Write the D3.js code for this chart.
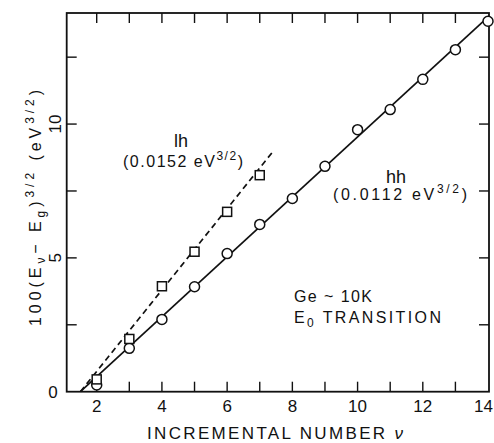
<!DOCTYPE html>
<html>
<head>
<meta charset="utf-8">
<script src="https://cdn.jsdelivr.net/npm/d3@7"></script>
<style>
  html, body { margin: 0; padding: 0; background: #fff; }
  svg text { font-family: "Liberation Sans", Arial, sans-serif; fill: #111; }
</style>
</head>
<body>
<svg id="chart" width="494" height="443"></svg>
<script>
// ---- data ----
const hhNu = [2, 3, 4, 5, 6, 7, 8, 9, 10, 11, 12, 13, 14];
const hhVal = [0.25, 1.62, 2.70, 3.92, 5.16, 6.25, 7.22, 8.42, 9.79, 10.54, 11.67, 12.78, 13.84];
const lhNu = [2, 3, 4, 5, 6, 7];
const lhVal = [0.46, 1.97, 3.94, 5.23, 6.72, 8.09];
// fit lines: x-intercept, slope (x100 eV^3/2 per step), last nu drawn
const fitNames = ["hh", "lh"];
const fitX0 = [1.5, 1.5];
const fitSlope = [1.12, 1.52];
const fitXEnd = [14.03, 7.42];
const xTicks = [2, 3, 4, 5, 6, 7, 8, 9, 10, 11, 12, 13];
const xTickLabels = [2, 4, 6, 8, 10, 12, 14];
const yTicks = [2.5, 5, 7.5, 10, 12.5];
const yTickLabels = [0, 5, 10];

const svg = d3.select("#chart");
const L = 66.7, R = 489, T = 13, B = 391.7;
const x = d3.scaleLinear().domain([1.08, 14.03]).range([L, R]);
const y = d3.scaleLinear().domain([0, 14.15]).range([B, T]);

const ink = "#111";

// frame
svg.append("rect").attr("x", L).attr("y", T).attr("width", R - L).attr("height", B - T)
  .attr("fill", "none").attr("stroke", ink).attr("stroke-width", 1.8);

// ticks (inward) on all four sides
const tk = 10;
const tickG = svg.append("g").attr("stroke", ink).attr("stroke-width", 1.4);
xTicks.forEach(v => {
  tickG.append("line").attr("x1", x(v)).attr("x2", x(v)).attr("y1", B).attr("y2", B - tk);
  tickG.append("line").attr("x1", x(v)).attr("x2", x(v)).attr("y1", T).attr("y2", T + tk);
});
yTicks.forEach(v => {
  tickG.append("line").attr("x1", L).attr("x2", L + tk).attr("y1", y(v)).attr("y2", y(v));
  tickG.append("line").attr("x1", R).attr("x2", R - tk).attr("y1", y(v)).attr("y2", y(v));
});

// x tick labels (last one kept inside the page edge)
const last = xTickLabels[xTickLabels.length - 1];
svg.append("g").selectAll("text").data(xTickLabels).join("text")
  .attr("x", d => d === last ? Math.min(x(d) + 9, 493) : x(d)).attr("y", 412)
  .attr("text-anchor", d => d === last ? "end" : "middle")
  .attr("font-size", 17).text(d => d);

// y tick labels (rotated)
svg.append("g").selectAll("text").data(yTickLabels).join("text")
  .attr("transform", d => `translate(${d === 0 ? 53 : 55},${y(d)}) rotate(${d === 0 ? 0 : -90})`)
  .attr("text-anchor", "middle").attr("dy", "0.36em")
  .attr("font-size", 17).text(d => d);

// axis titles
svg.append("text").attr("x", 275).attr("y", 439).attr("text-anchor", "middle")
  .attr("font-size", 17).attr("textLength", 256).attr("lengthAdjust", "spacing")
  .call(t => {
    t.append("tspan").text("INCREMENTAL NUMBER ");
    t.append("tspan").attr("font-style", "italic").text("ν");
  });

const yt = svg.append("text").attr("transform", "translate(41,208) rotate(-90)")
  .attr("text-anchor", "middle").attr("font-size", 16)
  .attr("textLength", 236).attr("lengthAdjust", "spacing");
yt.append("tspan").text("100(E");
yt.append("tspan").attr("font-size", 12).attr("dy", 4).text("ν");
yt.append("tspan").attr("dy", -4).text("− E");
yt.append("tspan").attr("font-size", 12).attr("dy", 4).text("g");
yt.append("tspan").attr("dy", -4).text(")");
yt.append("tspan").attr("font-size", 12).attr("dy", -7).text("3/2");
yt.append("tspan").attr("dy", 7).text(" (eV");
yt.append("tspan").attr("font-size", 12).attr("dy", -7).text("3/2");
yt.append("tspan").attr("dy", 7).text(")");

// fit lines
const line = d3.line().x(d => x(d[0])).y(d => y(d[1]));
fitNames.forEach((n, i) => {
  const pts = [[fitX0[i], 0], [fitXEnd[i], fitSlope[i] * (fitXEnd[i] - fitX0[i])]];
  svg.append("path").attr("d", line(pts)).attr("fill", "none")
    .attr("stroke", ink).attr("stroke-width", 1.7)
    .attr("stroke-dasharray", n === "lh" ? "6,4" : null);
});

// markers
svg.append("g").selectAll("circle").data(hhNu.map((v, i) => [v, hhVal[i]])).join("circle")
  .attr("cx", d => x(d[0])).attr("cy", d => y(d[1])).attr("r", 5)
  .attr("fill", "#fff").attr("stroke", ink).attr("stroke-width", 1.5);
const s = 9;
svg.append("g").selectAll("rect").data(lhNu.map((v, i) => [v, lhVal[i]])).join("rect")
  .attr("x", d => x(d[0]) - s / 2).attr("y", d => y(d[1]) - s / 2)
  .attr("width", s).attr("height", s)
  .attr("fill", "#fff").attr("stroke", ink).attr("stroke-width", 1.5);

// annotations
svg.append("text").attr("x", 181).attr("y", 147).attr("text-anchor", "middle")
  .attr("font-size", 18).text("lh");
const a1 = svg.append("text").attr("x", 183).attr("y", 167).attr("text-anchor", "middle")
  .attr("font-size", 16).attr("textLength", 120).attr("lengthAdjust", "spacing");
a1.append("tspan").text("(0.0152 eV");
a1.append("tspan").attr("font-size", 12).attr("dy", -7).text("3/2");
a1.append("tspan").attr("dy", 7).text(")");

svg.append("text").attr("x", 396).attr("y", 183).attr("text-anchor", "middle")
  .attr("font-size", 18).text("hh");
const a2 = svg.append("text").attr("x", 400).attr("y", 200).attr("text-anchor", "middle")
  .attr("font-size", 16).attr("textLength", 134).attr("lengthAdjust", "spacing");
a2.append("tspan").text("(0.0112 eV");
a2.append("tspan").attr("font-size", 12).attr("dy", -7).text("3/2");
a2.append("tspan").attr("dy", 7).text(")");

svg.append("text").attr("x", 294).attr("y", 302).attr("font-size", 16)
  .attr("textLength", 78).attr("lengthAdjust", "spacing").text("Ge ~ 10K");
const e0 = svg.append("text").attr("x", 294).attr("y", 323).attr("font-size", 16)
  .attr("textLength", 147).attr("lengthAdjust", "spacing");
e0.append("tspan").text("E");
e0.append("tspan").attr("font-size", 12).attr("dy", 4).text("0");
e0.append("tspan").attr("dy", -4).text("  TRANSITION");
</script>
</body>
</html>
